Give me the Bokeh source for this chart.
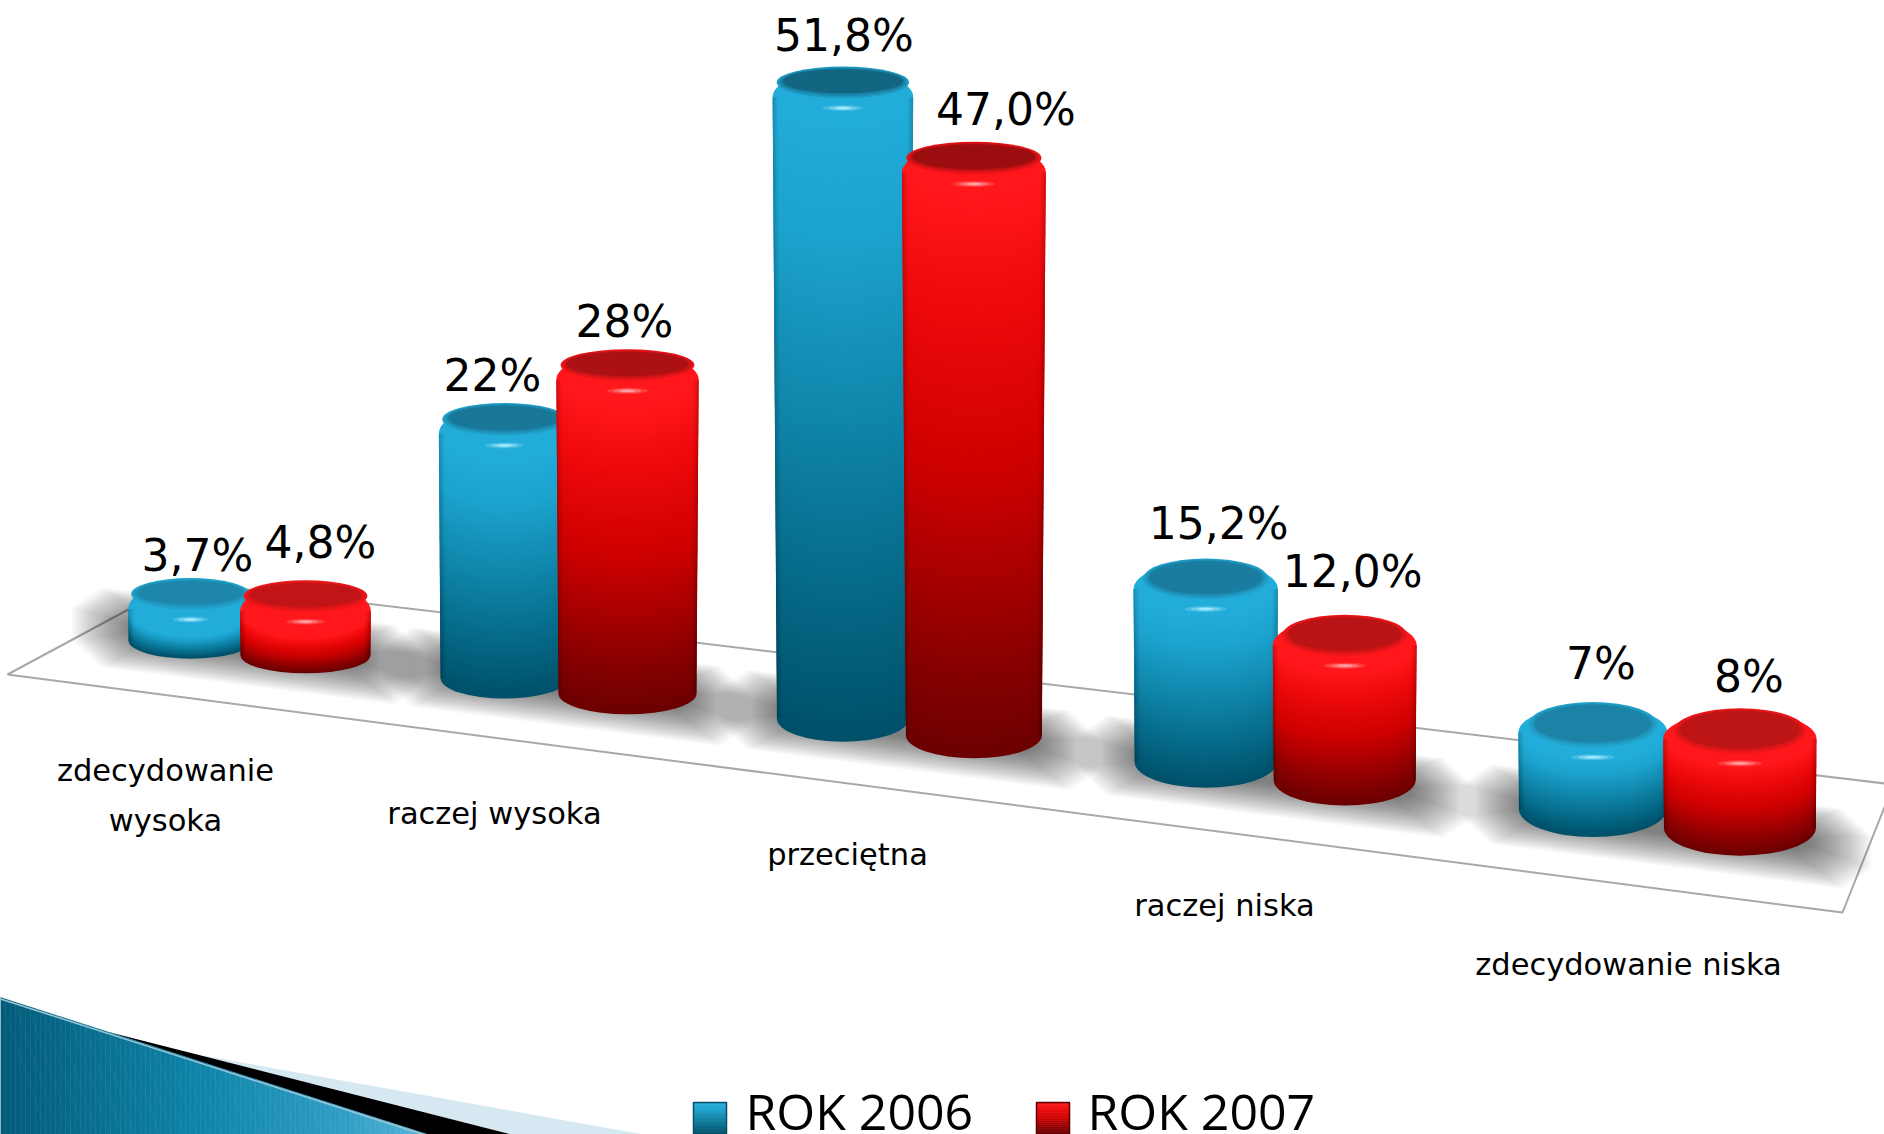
from bokeh.plotting import figure
from bokeh.models import Range1d
from bokeh.core.properties import value
from bokeh.embed import file_html
from bokeh.resources import INLINE

CATEGORIES = ["zdecydowanie\nwysoka", "raczej wysoka", "przeciętna", "raczej niska", "zdecydowanie niska"]
ROK_2006 = [3.7, 22.0, 51.8, 15.2, 7.0]
ROK_2007 = [4.8, 28.0, 47.0, 12.0, 8.0]
LABELS_2006 = ["3,7%", "22%", "51,8%", "15,2%", "7%"]
LABELS_2007 = ["4,8%", "28%", "47,0%", "12,0%", "8%"]
SERIES_NAMES = ["ROK 2006", "ROK 2007"]

BLUE = [(0, "#22acd9"), (.18, "#1ca3ce"), (.5, "#0f84a8"), (.85, "#03607c"), (1, "#00506a")]
RED = [(0, "#ff171b"), (.18, "#f00a0c"), (.5, "#cc0000"), (.85, "#860000"), (1, "#6c0000")]
FACE = [("#1f88ad", "#126682"), ("#c41517", "#9c0d10")]
GLINT = ["#a8ecff", "#ffa8a8"]
SWATCH_EDGE = ["#0b4d63", "#5a0000"]
FONT = "DejaVu Sans"

W, H = 1884, 1134
p = figure(width=W, height=H, x_range=Range1d(0, W), y_range=Range1d(H, 0),
           output_backend="svg", toolbar_location=None, min_border=0,
           background_fill_color="white", border_fill_color="white", outline_line_color=None)
p.axis.visible = False
p.grid.visible = False


def hex2(c):
    return [int(c[i:i + 2], 16) for i in (1, 3, 5)]


def mix(a, b, t):
    x, y = hex2(a), hex2(b)
    return "#%02x%02x%02x" % tuple(round(x[k] + (y[k] - x[k]) * t) for k in range(3))


def ramp(stops, f):
    f = max(0, min(1, f))
    for (f0, c0), (f1, c1) in zip(stops, stops[1:]):
        if f <= f1:
            return mix(c0, c1, (f - f0) / (f1 - f0))
    return stops[-1][1]


# ---- floor model (projection of the 3D chart)
def pair_mid(i):
    return 247.5 + 305.8 * i + 12.2 * i * i


def half_gap(i):
    return 57.5 + 4.0 * i


def floor_line(x):
    return 634 + 0.1272 * x


BASELINE_SHIFT = 0.33  # of the font size, the SVG text sits this much under its anchor
HEIGHT_PER_UNIT = 12.2
HEIGHT_OFFSET = 10.6
DEPTH_FACTOR = [0.92, 0.948, 1.0, 0.99, 1.02]
RADIUS = [[62, 64, 66, 71, 74], [65, 69, 68, 71, 76]]
LABEL_DX = [[7, 15], [-12, -3], [1, 32], [13, 8], [8, 9]]
LABEL_GAP = [[11, 26], [16, 16], [19, 20], [23, 32], [27, 20]]
CAT_X = [165, 494, 847, 1224, 1628]
CAT_BASE = [[780, 830], [823], [864], [915], [974]]

# floor plate
p.patch([7, 1842, 1893, 180], [674, 912, 784, 581], fill_color="white",
        line_color="#a8a8a8", line_width=2)

# soft shadows on the floor
for i in range(5):
    mid, hg = pair_mid(i), half_gap(i)
    edge = 64 + 3.2 * i
    xs, ys = [], []
    for k in range(26):
        t = k / 25
        m = 55 * (1 - t) - 6 * t
        up = 60 * (1 - t) + 34 * t
        dn = 20 * (1 - t) - 12 * t
        a, b = mid - hg - edge - m, mid + hg + edge + m
        c = 16 + 14 * (1 - t)
        md = (dn - up) / 2
        xx = [a + c, b - c, b, b, b - c, a + c, a, a]
        off = [-up, -up, md - (up + dn) * .2, md + (up + dn) * .2, dn, dn, md + (up + dn) * .2, md - (up + dn) * .2]
        xs.append(xx)
        ys.append([floor_line(x) + o for x, o in zip(xx, off)])
    p.patches(xs, ys, fill_color="black", fill_alpha=0.023, line_color=None)


# cylinders
def cylinder(i, s, v):
    stops = BLUE if s == 0 else RED
    cx = pair_mid(i) + (-1 if s == 0 else 1) * half_gap(i)
    h = DEPTH_FACTOR[i] * (HEIGHT_PER_UNIT * v - HEIGHT_OFFSET)
    rb = RADIUS[s][i]
    rt = rb + h * 0.007
    ryb = 18 + 2.5 * i
    ryt = 28.0
    bottom = floor_line(cx)
    yb = bottom - ryb
    yt = yb - h
    top = yt - ryt
    n = max(8, int(h / 2))
    xs, ys, ws, hs, cols = [], [], [], [], []
    for k in range(n + 1):
        t = k / n
        yc = yb + (yt - yb) * t
        ry = ryb + (ryt - ryb) * t
        rx = rb + (rt - rb) * t
        f = (yc + ry - top - 2 * ryt) / (bottom - top - 2 * ryt)
        xs.append(cx); ys.append(yc); ws.append(2 * rx); hs.append(2 * ry)
        cols.append(ramp(stops, f))
    p.ellipse(xs, ys, width=ws, height=hs, fill_color=cols, line_color=None)

    # darker edges of the body
    bx, by = [], []
    for w in (1.5, 3, 5):
        for side in (-1, 1):
            bx.append([cx + side * rt, cx + side * (rt - w), cx + side * (rb - w), cx + side * rb])
            by.append([yt, yt, yb, yb])
    p.patches(bx, by, fill_color="black", fill_alpha=0.06, line_color=None)

    # top face with a soft rim
    fry = 12 + 1.8 * i - h * 0.006
    face = mix(FACE[s][0], FACE[s][1], min(1, h / 500))
    frx = rt * (0.85 if i < 3 else 0.78)
    fy = top + fry
    bright = stops[0][1]
    for k, grow in enumerate((4, 2.5, 1)):
        p.ellipse([cx], [fy + grow * .3], width=2 * (frx + grow * 1.6), height=2 * (fry + grow),
                  fill_color=mix(bright, face, (k + 1) / 4), line_color=None)
    p.ellipse([cx], [fy], width=2 * frx, height=2 * fry, fill_color=face, line_color=None)

    # glint on the rim
    gy = top + 2 * fry + 15
    for w, hh, a in ((0.58, 6, .25), (0.4, 4, .45), (0.22, 2.5, .85)):
        p.ellipse([cx], [gy], width=rt * w, height=hh, fill_color=GLINT[s], fill_alpha=a, line_color=None)

    return cx, top


tops = []
for i in range(5):
    tops.append([cylinder(i, 0, ROK_2006[i]), cylinder(i, 1, ROK_2007[i])])

# value labels
for s, labels in enumerate((LABELS_2006, LABELS_2007)):
    lx = [tops[i][s][0] + LABEL_DX[i][s] for i in range(5)]
    ly = [tops[i][s][1] - LABEL_GAP[i][s] - BASELINE_SHIFT * 44 for i in range(5)]
    p.text(lx, ly, text=labels, text_font=value(FONT), text_font_size="44px", text_color="black",
           text_align="center", text_baseline="alphabetic")

# category labels
cx_l, cy_l, ct_l = [], [], []
for c, x, bases in zip(CATEGORIES, CAT_X, CAT_BASE):
    for line, y in zip(c.split("\n"), bases):
        cx_l.append(x); cy_l.append(y - BASELINE_SHIFT * 30); ct_l.append(line)
p.text(cx_l, cy_l, text=ct_l, text_font=value(FONT), text_font_size="30.5px", text_color="black",
       text_align="center", text_baseline="alphabetic")


# swoosh in the corner
def swoosh_top(x):
    return 997 + 0.3208 * x


p.patch([180, 643, 511, 120], [1051, 1134, 1134, 1036], fill_color="#d6e9f2", line_color=None)
p.patch([108, 511, 427], [1031.6, 1134, 1134], fill_color="black", line_color=None)

SW = [(0, "#045b79"), (.45, "#0d83a8"), (.8, "#2f9ec4"), (1, "#58b4d8")]
qx, qy, qc = [], [], []
for x in range(0, 427, 5):
    x1 = min(x + 5, 427)
    qx.append([x, x1, x1, x])
    qy.append([swoosh_top(x), swoosh_top(x1), 1134, 1134])
    qc.append(ramp(SW, x / 427))
p.patches(qx, qy, fill_color=qc, line_color=qc, line_width=0.5)
lx, ly = [], []
for x in range(0, 427, 14):
    y0 = swoosh_top(x)
    lx.append([x, x + (1134 - y0) * 0.34]); ly.append([y0, 1134])
p.multi_line(lx, ly, line_color="white", line_alpha=0.06, line_width=1)
p.line([0, 427], [998.5, 1135.5], line_color="#9cc6d6", line_width=1.5)

# legend
for s, (name, sx, tx, stops) in enumerate(zip(SERIES_NAMES, (693, 1036), (745, 1087), (BLUE, RED))):
    rows = list(range(1102, 1134, 2))
    cols = [ramp(stops, (r - 1102) / 30) for r in rows]
    p.quad(left=[sx] * len(rows), right=[sx + 33] * len(rows), top=rows, bottom=[r + 2 for r in rows],
           fill_color=cols, line_color=cols, line_width=0.5)
    p.quad(left=[sx], right=[sx + 33], top=[1102], bottom=[1134], fill_color=None,
           line_color=SWATCH_EDGE[s], line_width=1.5)
    p.text([tx], [1127 - BASELINE_SHIFT * 50], text=[name], text_font=value("Open Sans"), text_font_size="50px",
           text_color="black", text_align="left", text_baseline="alphabetic")

open("out.html", "w").write(file_html(p, INLINE))
